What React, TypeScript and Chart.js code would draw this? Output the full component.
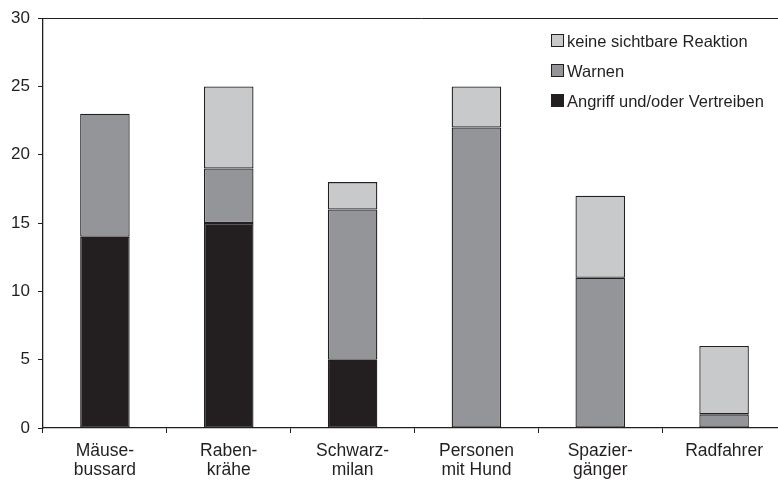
import React, { useEffect, useRef } from "react";
import { Chart, registerables } from "chart.js";

Chart.register(...registerables);

const categories: string[][] = [
  ["Mäuse-", "bussard"],
  ["Raben-", "krähe"],
  ["Schwarz-", "milan"],
  ["Personen", "mit Hund"],
  ["Spazier-", "gänger"],
  ["Radfahrer"],
];
const angriff: (number | null)[] = [14, 15, 5, null, null, null];
const warnen: (number | null)[] = [9, 4, 11, 22, 11, 1];
const keine: (number | null)[] = [null, 6, 2, 3, 6, 5];

const seriesNames = ["Angriff und/oder Vertreiben", "Warnen", "keine sichtbare Reaktion"];
const seriesColors = ["#231f20", "#939598", "#c8c9cb"];
const ink = "#231f20";
const fontFamily = "'Liberation Sans', Arial, sans-serif";

export default function App() {
  const ref = useRef<HTMLCanvasElement | null>(null);
  useEffect(() => {
    if (!ref.current) return;
    const frame = {
      id: "frame",
      afterDatasetsDraw(chart: any) {
        const { ctx, chartArea } = chart;
        ctx.save();
        ctx.strokeStyle = ink;
        ctx.lineWidth = 1;
        ctx.beginPath();
        ctx.moveTo(chartArea.left, Math.round(chartArea.top) + 0.5);
        ctx.lineTo(chart.width, Math.round(chartArea.top) + 0.5);
        ctx.stroke();
        // legend
        const rows = [2, 1, 0];
        ctx.font = `16.5px ${fontFamily}`;
        ctx.textBaseline = "middle";
        ctx.textAlign = "left";
        rows.forEach((di, i) => {
          const cy = 41 + i * 30;
          ctx.fillStyle = seriesColors[di];
          ctx.fillRect(551, cy - 7, 13, 13);
          ctx.strokeStyle = ink;
          ctx.strokeRect(551.5, cy - 6.5, 12, 12);
          ctx.fillStyle = ink;
          ctx.fillText(seriesNames[di], 567, cy + 1);
        });
        ctx.restore();
      },
    };
    const mk = (i: number, data: (number | null)[]) => ({
      label: seriesNames[i],
      data,
      backgroundColor: seriesColors[i],
      borderColor: ink,
      borderWidth: 1.3,
      borderSkipped: false,
      categoryPercentage: 1,
      barPercentage: 0.4,
    });
    const chart = new Chart(ref.current, {
      type: "bar",
      data: {
        labels: categories as any,
        datasets: [mk(0, angriff), mk(1, warnen), mk(2, keine)],
      },
      options: {
        animation: false,
        responsive: false,
        maintainAspectRatio: false,
        layout: { padding: { top: 14, right: 14, left: 0, bottom: 0 } },
        plugins: { legend: { display: false }, tooltip: { enabled: false } },
        scales: {
          x: {
            stacked: true,
            grid: { drawOnChartArea: false, tickLength: 5, color: ink, offset: true },
            border: { display: true, color: ink, width: 1.3 },
            ticks: {
              color: ink,
              font: { family: fontFamily, size: 17.5, lineHeight: 1.07 },
              padding: 9,
              maxRotation: 0,
              autoSkip: false,
            },
            afterFit: (s: any) => {
              s.height = 57;
            },
          },
          y: {
            stacked: true,
            min: 0,
            max: 30,
            grid: { drawOnChartArea: false, tickLength: 5, color: ink },
            border: { display: true, color: ink, width: 1.3 },
            ticks: {
              stepSize: 5,
              color: ink,
              font: { family: fontFamily, size: 17 },
              padding: 8,
            },
            afterFit: (s: any) => {
              s.width = 43;
            },
          },
        },
      },
      plugins: [frame],
    } as any);
    return () => chart.destroy();
  }, []);
  return (
    <div style={{ position: "absolute", left: 0, top: 0, width: 800, height: 485, background: "#fff" }}>
      <canvas ref={ref} width={800} height={485} style={{ display: "block" }} />
    </div>
  );
}
